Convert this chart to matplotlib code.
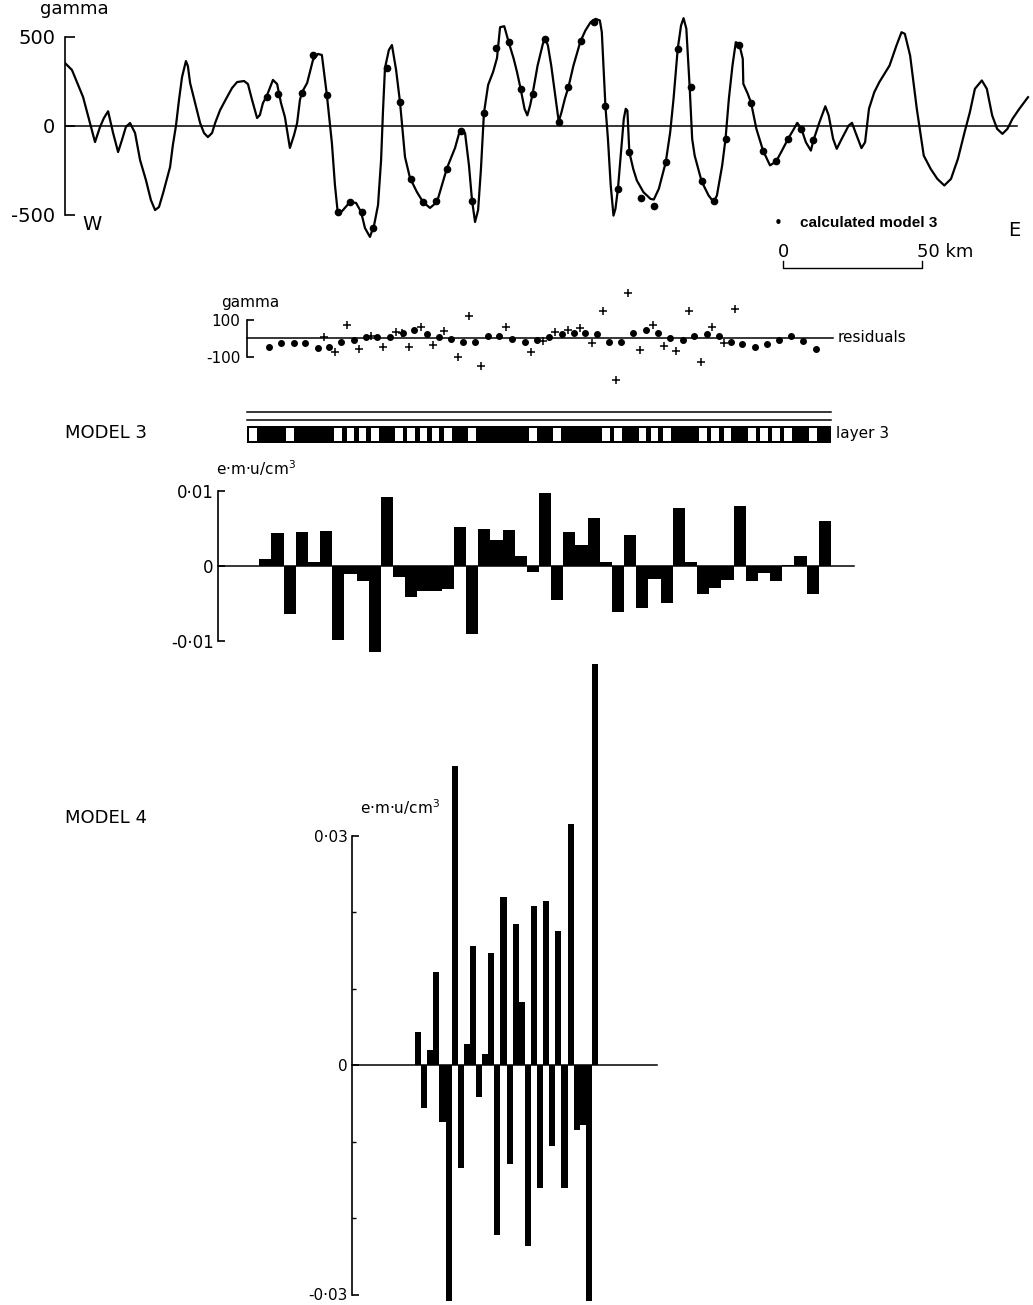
import matplotlib
matplotlib.use("Agg")
import matplotlib.pyplot as plt
from matplotlib.patches import Rectangle
from matplotlib.transforms import blended_transform_factory

W, H = 1033, 1305
plt.rcParams['font.family'] = ['DejaVu Sans']

# ---- data ----
# observed magnetic profile, distance along track (km) and anomaly (gamma)
profile_km = [0, 2.5, 4.7, 6.5, 9.0, 10.8, 12.6, 14.0, 15.5, 17.3, 19.1, 20.5, 21.9, 23.4, 25.2,
              27.0, 29.1, 30.9, 32.4, 33.8, 35.3, 37.8, 38.8, 39.9, 41.0, 42.1, 43.5, 44.2, 45.0,
              46.8, 48.6, 50.0, 51.4, 52.9, 54.0, 55.8, 58.3, 60.1, 61.9, 64.4, 65.8, 67.3, 69.1,
              70.1, 71.2, 72.7, 74.8, 76.3, 77.7, 79.1, 80.9, 82.4, 83.5, 84.5, 85.3, 87.1, 89.2,
              91.0, 92.4, 94.2, 96.0, 97.1, 98.2, 100.0, 102.5, 104.7, 106.5, 107.9, 109.7, 111.2,
              112.6, 113.7, 114.4, 115.1, 116.5, 117.6, 119.1, 120.5, 121.6, 122.3, 124.1, 126.6,
              128.8, 131.3, 133.8, 137.4, 140.3, 142.1, 143.9, 145.3, 146.4, 147.5, 148.6, 149.6,
              150.7, 152.2, 154.0, 155.4,
              156.5, 158.0, 159.6, 161.4, 162.6, 163.9, 165.3, 166.3, 167.3, 168.2, 170.0, 171.9,
              172.7, 173.7, 174.9, 176.2, 177.6, 178.6, 179.8, 181.1, 182.9, 185.4, 187.2, 189.1,
              190.9, 192.4, 193.1, 194.4, 195.3, 196.3, 197.3, 198.0, 198.9, 200.1, 201.0, 201.7,
              202.3, 203.0, 204.4, 205.7, 208.1, 210.6, 211.8, 213.6, 216.1, 217.7, 218.9, 220.4,
              221.6, 222.5, 223.5, 224.7, 225.6, 226.5, 227.8, 229.0, 231.5, 233.3, 234.5, 236.4,
              237.6, 238.8, 240.1, 241.3, 242.5, 243.8, 244.0, 245.6, 246.8, 248.7, 251.1, 253.6,
              255.8, 257.9, 260.1, 262.2, 263.4, 264.9, 266.5, 268.3, 269.2, 271.4, 273.5, 274.7,
              276.3, 277.6, 279.4, 281.9, 283.1, 284.3, 286.5, 287.8, 289.2, 291.1, 292.9, 296.6,
              299.1, 300.9, 302.1, 304.0, 306.4, 308.9, 311.4, 313.8, 316.3, 318.7, 321.2, 323.6,
              325.5, 327.3, 329.8, 331.6, 333.5, 335.3, 337.2, 339.0, 340.8, 343.3, 346.4]
profile_gamma = [351, 312, 228, 160, 14, -93, -8, 42, 80, -42, -149, -81, -8, 14, -42,
                 -194, -306, -419, -475, -458, -379, -233, -110, -3, 143, 272, 362, 334, 239,
                 126, 14, -42, -65, -42, 14, 87, 160, 211, 244, 250, 233, 143, 42,
                 59, 126, 171, 256, 233, 126, 48, -126, -53, 14, 143, 188, 239, 368,
                 402, 396, 171, -98, -334, -503, -475, -430, -435, -486, -576, -626, -559,
                 -447, -194, 87, 323, 424, 452, 312, 132, -53, -177, -295, -374,
                 -430, -463, -430, -239, -126, -25, -42, -222, -419, -542, -475, -250,
                 70, 228, 301, 379,
                 552, 558, 468, 375, 300, 206, 94, 57, 112, 178, 337, 459,
                 491, 450, 337, 187, 22, 75, 150, 216, 337, 472, 534, 581,
                 599, 590, 524, 108, -75, -337, -506, -468, -356, -131, 37, 94,
                 84, -150, -244, -309, -375, -412, -416, -356, -206, -37, 150, 430,
                 562, 603, 544, 216, -75, -169, -244, -314, -393, -430, -393, -224,
                 -75, 150, 337, 468, 459, 375, 234, 178, 127, -19, -141, -224,
                 -202, -141, -75, -19, 15, -19, -94, -141, -84, 19, 108, 57,
                 -75, -131, -75, 0, 15, -37, -127, -94, 94, 187, 243, 337,
                 450, 524, 515, 393, 94, -169, -244, -300, -337, -300, -187, -37,
                 75, 206, 253, 206, 57, -19, -47, -19, 37, 94, 159]

# anomaly calculated from model 3
calc_km = [72.7, 76.6, 85.3, 89.2, 94.2, 98.2, 102.5, 106.8, 110.8, 115.8, 120.5, 124.5, 128.8,
           133.5, 137.4, 142.4, 146.4, 150.7, 155.0, 159.6, 163.9, 168.2, 172.5, 177.6, 181.1,
           185.6, 190.3, 194.4, 198.9, 203.0, 207.3, 211.8, 216.1, 220.4, 225.1, 229.0, 233.3,
           237.6, 242.5, 246.8, 251.1, 255.8, 260.1, 264.6, 269.2]
calc_gamma = [160, 177, 183, 396, 171, -486, -430, -486, -576, 323, 132, -301, -430,
              -424, -244, -31, -424, 70, 435, 468, 206, 178, 487, 22, 216,
              472, 581, 108, -356, -150, -406, -450, -206, 430, 216, -314, -426,
              -75, 453, 126, -144, -202, -75, -19, -81]

# residuals (gamma): dots and crosses
resid_dot_km = [73.3, 77.6, 82.2, 86.5, 90.9, 95.0, 99.4, 104.0, 108.3, 112.1, 116.8, 121.6,
                125.7, 130.1, 134.4, 139.0, 143.3, 147.6, 152.1, 156.1, 160.9, 165.5, 169.8,
                174.1, 178.6, 183.1, 187.1, 191.5, 195.6, 199.9, 204.3, 208.9, 213.2, 217.5,
                222.3, 226.4, 230.8, 235.1, 239.4, 243.6, 248.2, 252.5, 256.7, 261.3, 265.6, 270.0]
resid_dot = [-44, -27, -27, -27, -53, -44, -21, -9, 5, 5, 5, 30,
             44, 23, 5, -5, -18, -18, 12, 12, -5, -18, -9,
             9, 21, 27, 27, 23, -18, -18, 27, 44, 30, 0,
             -9, 12, 23, 12, -18, -30, -44, -30, -9, 12, -12, -59]
resid_cross_km = [93.3, 97.2, 101.5, 105.7, 110.0, 114.3, 118.9, 121.1, 123.6, 127.9, 132.2,
                  136.4, 141.2, 145.5, 149.8, 158.6, 167.5, 171.8, 176.2, 180.8, 185.1, 189.4,
                  193.6, 198.2, 202.5, 206.9, 211.5, 215.5, 219.7, 224.3, 228.6, 232.9, 237.1, 241.0]
resid_cross = [5, -71, 71, -59, 12, -44, 36, 30, -44, 62, -36,
               41, -98, 119, -148, 62, -71, -12, 36, 44, 53, -27,
               148, -222, 244, -62, 71, -41, -66, 148, -125, 62, -23, 155]

# model 3: 48 blocks, magnetisation in 1e-3 e.m.u./cm3
block_start_km = 65.5
block_width_km = 4.375
model3_memu = [0, 0.9, 4.4, -6.5, 4.6, 0.6, 4.7, -9.9, -1.1, -2.0, -11.5, 9.2,
                -1.5, -4.1, -3.3, -3.3, -3.1, 5.3, -9.1, 4.9, 3.5, 4.8, 1.4, -0.8,
                9.8, -4.6, 4.5, 2.8, 6.5, 0.6, -6.2, 4.1, -5.7, -1.8, -4.9, 7.8,
                0.6, -3.8, -3.0, -1.9, 8.0, -2.0, -1.0, -2.0, 0.2, 1.4, -3.8, 6.0]
# layer 3 polarity strip (1 = white block)
layer3_white = [1, 0, 0, 1, 0, 0, 0, 1, 1, 1, 1, 0, 1, 1, 1, 1, 1, 0, 1, 0, 0, 0, 0, 1,
                0, 1, 0, 0, 0, 1, 1, 0, 1, 1, 1, 0, 0, 1, 1, 1, 0, 1, 1, 1, 1, 0, 1, 0]

# model 4: 30 blocks, 1e-3 e.m.u./cm3
model4_memu = [4.3, -5.6, 1.9, 12.1, -7.5, -30.8, 39.1, -13.4, 2.7, 15.6, -4.2, 1.5,
               14.6, -22.2, 21.9, -13.0, 18.4, 8.3, -23.7, 20.8, -16.1, 21.5, -10.6, 17.5,
               -16.1, 31.5, -8.5, -7.8, -30.8, 52.4]

# ---- layout ----
KM_PX = 2.78   # pixels per km
X0 = 65        # pixel of km 0
fig = plt.figure(figsize=(W / 100, H / 100), dpi=100)


def panel(top, height, left=X0, width=965):
    ax = fig.add_axes([left / W, 1 - (top + height) / H, width / W, height / H])
    ax.patch.set_alpha(0)
    for s in ('top', 'right', 'bottom'):
        ax.spines[s].set_visible(False)
    ax.spines['left'].set_linewidth(1.2)
    ax.set_xticks([])
    return ax


def label(x, y, s, **kw):
    kw.setdefault('va', 'center')
    fig.text(x / W, 1 - y / H, s, **kw)


km_lim = (0, 965 / KM_PX)

# top: profile
ax1 = panel(10, 240)
ax1.set_xlim(km_lim)
ax1.set_ylim(-(250 - 125.5) / 0.178, (125.5 - 10) / 0.178)
ax1.plot([0, 342.4], [0, 0], color='k', lw=1.1)
ax1.plot(profile_km, profile_gamma, color='k', lw=1.6, solid_joinstyle='round')
ax1.plot(calc_km, calc_gamma, 'o', color='k', ms=4.5)
ax1.spines['left'].set_bounds(-500, 500)
ax1.set_yticks([-500, 0, 500], ['-500', '0', '500'])
ax1.tick_params(axis='y', direction='in', length=7, width=1.2, labelsize=14, pad=7)

# scale bar
tr = blended_transform_factory(ax1.transData, fig.transFigure)
sb0, sb_len = 258.3, 50
ax1.plot([sb0, sb0, sb0 + sb_len, sb0 + sb_len],
         [1 - 261 / H, 1 - 268 / H, 1 - 268 / H, 1 - 261 / H],
         color='k', lw=1.0, transform=tr, clip_on=False)
ax1.text(sb0, 1 - 252 / H, '0', transform=tr, ha='center', va='center', fontsize=13)
label(917, 252, '50 km', fontsize=13)

label(40, 9, 'gamma', fontsize=13)
label(82, 224, 'W', fontsize=14)
label(1008, 230, 'E', fontsize=14)
label(774, 223, '\u2022', fontsize=11)
label(800, 223, 'calculated model 3', fontsize=11, family='Liberation Sans', weight='bold')

# residuals
ax2 = panel(280, 110)
ax2.set_xlim(km_lim)
ax2.set_ylim(-(390 - 338.3) / 0.187, (338.3 - 280) / 0.187)
ax2.spines['left'].set_position(('data', 65.5))
ax2.spines['left'].set_bounds(-100, 100)
ax2.plot([65.5, 276.3], [0, 0], color='k', lw=1.1)
ax2.plot(resid_dot_km, resid_dot, 'o', color='k', ms=4)
ax2.plot(resid_cross_km, resid_cross, '+', color='k', ms=6, mew=1.1)
ax2.set_yticks([-100, 100], ['-100', '100'])
ax2.tick_params(axis='y', direction='in', length=5, width=1.2, labelsize=11, pad=5)
label(221, 302, 'gamma', fontsize=11)
label(838, 338, 'residuals', fontsize=11)

# layer 3 strip
ax3 = panel(400, 50)
ax3.spines['left'].set_visible(False)
ax3.set_yticks([])
ax3.set_xlim(km_lim)
ax3.set_ylim(450, 400)
lefts = [block_start_km + i * block_width_km for i in range(len(model3_memu))]
strip_end = lefts[-1] + block_width_km
for yl in (412, 420):
    ax3.plot([block_start_km, strip_end], [yl, yl], color='k', lw=1.1)
ax3.add_patch(Rectangle((block_start_km, 426), strip_end - block_start_km, 17, color='k', lw=0))
for x, w in zip(lefts, layer3_white):
    if w:
        ax3.add_patch(Rectangle((x + 0.8, 428), block_width_km - 1.6, 13, color='white', lw=0))
label(65, 433, 'MODEL 3', fontsize=13)
label(836, 433, 'layer 3', fontsize=11)

# model 3 magnetisation
ax4 = panel(465, 195)
ax4.set_xlim(km_lim)
ax4.set_ylim(-(660 - 566) / 7.45, (566 - 465) / 7.45)
ax4.spines['left'].set_position(('data', 55.0))
ax4.spines['left'].set_bounds(-10, 10)
ax4.plot([55.0, 283.8], [0, 0], color='k', lw=1.1)
ax4.bar(lefts, model3_memu, width=block_width_km, align='edge', color='k', lw=0)
ax4.set_yticks([-10, 0, 10], ['-0\u00b701', '0', '0\u00b701'])
ax4.tick_params(axis='y', direction='in', length=5, width=1.2, labelsize=12, pad=3)
label(216, 478, 'e\u00b7m\u00b7u/cm$^3$', fontsize=11, va='bottom')

# model 4 magnetisation
M4_PX, M4_X0 = 6.1, 415
ax5 = panel(655, 650, left=300, width=400)
ax5.set_xlim((300 - M4_X0) / M4_PX, (700 - M4_X0) / M4_PX)
ax5.set_ylim(-(1305 - 1065) / 7.65, (1065 - 655) / 7.65)
sp = (352 - M4_X0) / M4_PX
ax5.spines['left'].set_position(('data', sp))
ax5.spines['left'].set_bounds(-30, 30)
ax5.plot([sp, (657 - M4_X0) / M4_PX], [0, 0], color='k', lw=1.1)
ax5.bar(range(len(model4_memu)), model4_memu, width=1, align='edge', color='k', lw=0)
ax5.set_yticks([-30, 0, 30], ['-0\u00b703', '0', '0\u00b703'])
ax5.set_yticks([-20, -10, 10, 20], minor=True)
ax5.tick_params(axis='y', which='major', direction='in', length=5, width=1.2, labelsize=11, pad=3)
ax5.tick_params(axis='y', which='minor', direction='in', length=3, width=1.0)
label(65, 818, 'MODEL 4', fontsize=13)
label(360, 817, 'e\u00b7m\u00b7u/cm$^3$', fontsize=11, va='bottom')

fig.savefig('out.png', dpi=100)
